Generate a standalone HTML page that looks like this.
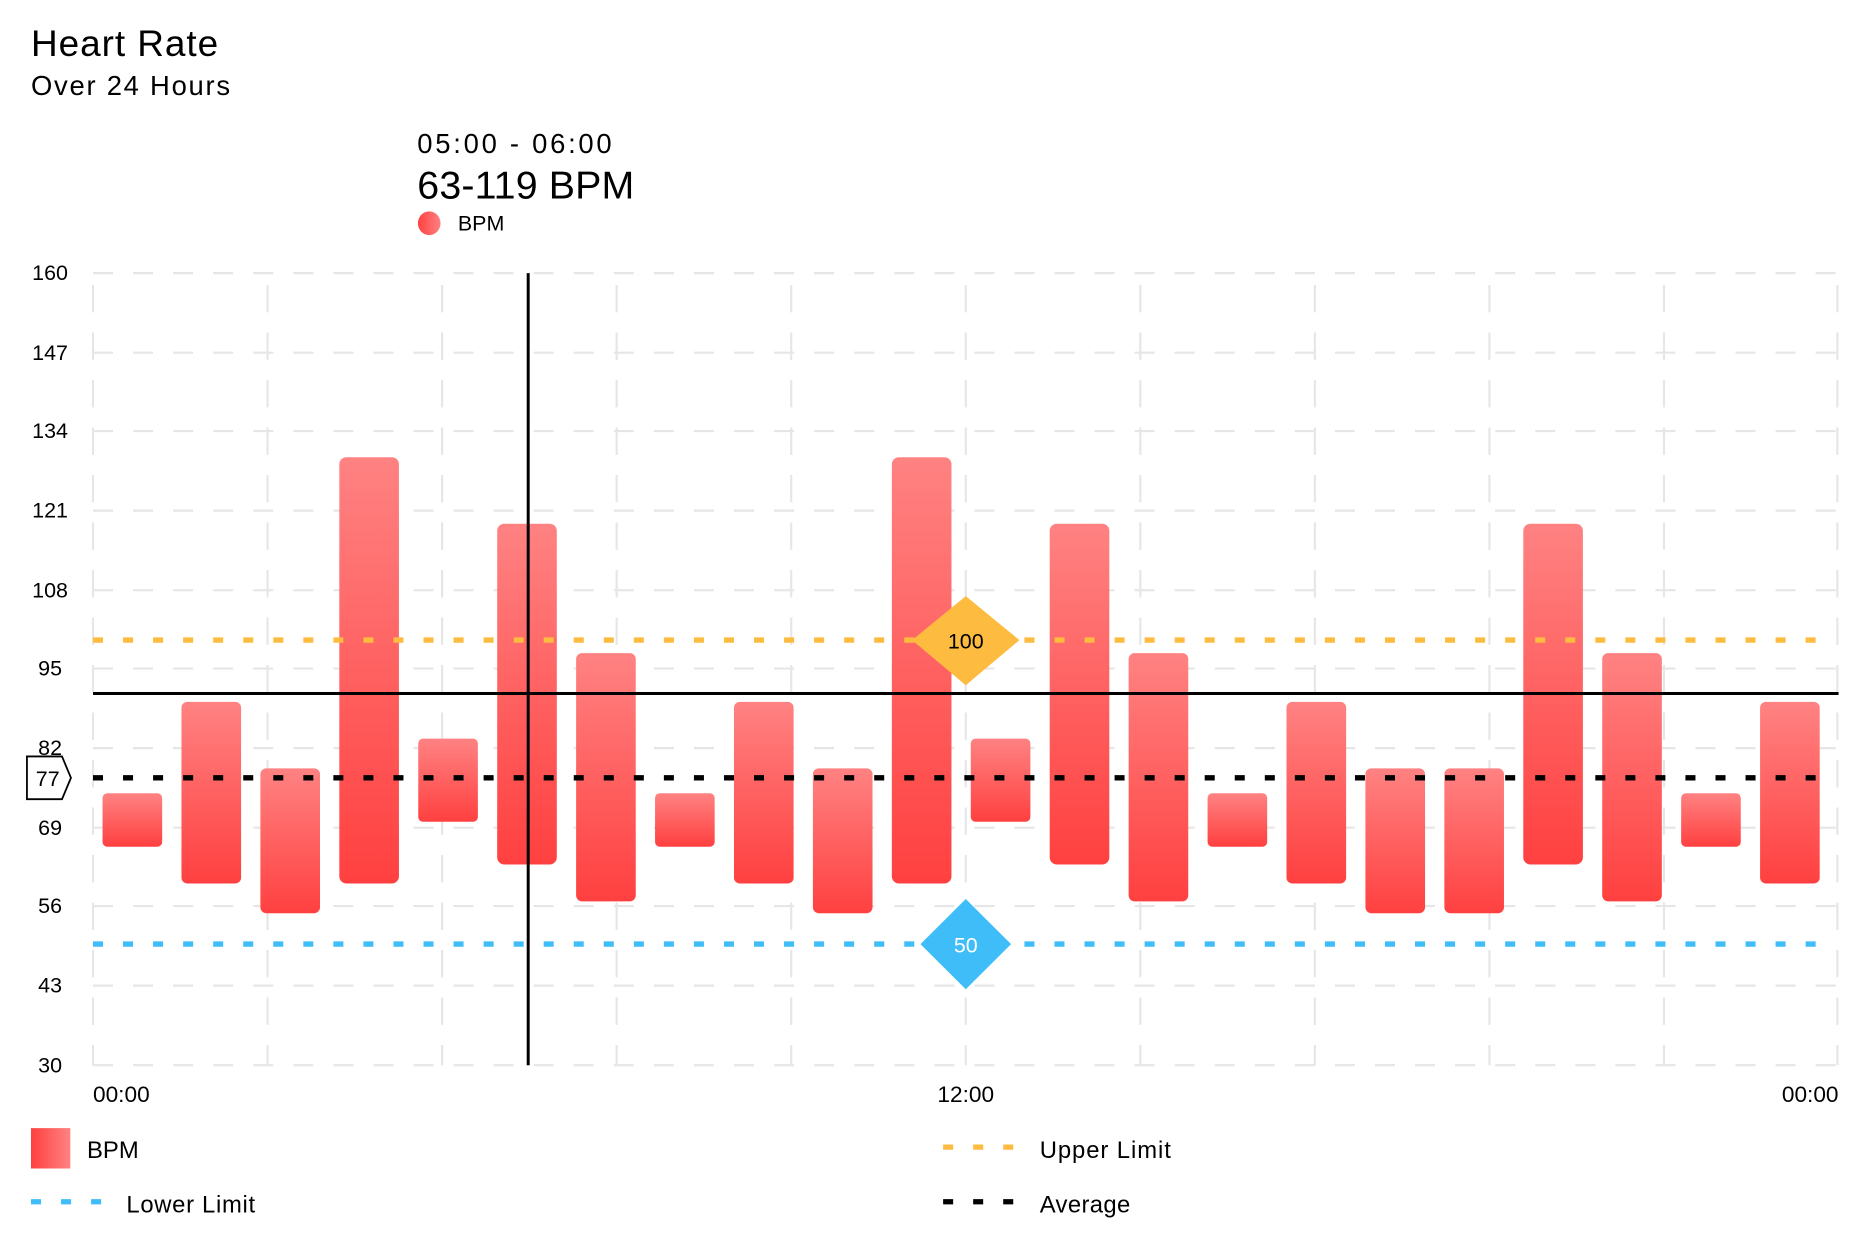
<!DOCTYPE html>
<html><head><meta charset="utf-8"><style>
html,body{margin:0;padding:0;background:#fff;}
svg{display:block;font-family:"Liberation Sans",sans-serif;}
</style></head><body>
<svg width="1860" height="1235" viewBox="0 0 1560 1040" preserveAspectRatio="none" xmlns="http://www.w3.org/2000/svg">
<defs>
<linearGradient id="g" x1="0" y1="0" x2="0" y2="1"><stop offset="0" stop-color="#ff8282"/><stop offset="1" stop-color="#ff4040"/></linearGradient>
<linearGradient id="gh" x1="0" y1="0" x2="1" y2="0"><stop offset="0" stop-color="#ff4040"/><stop offset="1" stop-color="#ff8282"/></linearGradient>
</defs>
<text x="26" y="47" font-size="31" fill="#000" textLength="157">Heart Rate</text>
<text x="26" y="80" font-size="23" fill="#000" textLength="167">Over 24 Hours</text>
<text x="350" y="129" font-size="23" textLength="163">05:00 - 06:00</text>
<text x="350" y="167" font-size="33" textLength="182">63-119 BPM</text>
<ellipse cx="360" cy="188" rx="9.5" ry="10" fill="url(#gh)"/>
<text x="384" y="194" font-size="18">BPM</text>
<g stroke="#e6e6e6" stroke-width="1.8" stroke-dasharray="16.8 16.8">
<line x1="78" y1="230" x2="1542" y2="230"/><line x1="78" y1="297" x2="1542" y2="297"/><line x1="78" y1="363" x2="1542" y2="363"/><line x1="78" y1="430" x2="1542" y2="430"/><line x1="78" y1="497" x2="1542" y2="497"/><line x1="78" y1="563" x2="1542" y2="563"/><line x1="78" y1="630" x2="1542" y2="630"/><line x1="78" y1="697" x2="1542" y2="697"/><line x1="78" y1="763" x2="1542" y2="763"/><line x1="78" y1="830" x2="1542" y2="830"/><line x1="78" y1="897" x2="1542" y2="897"/>
</g>
<g stroke="#e6e6e6" stroke-width="1.8" stroke-dasharray="23 17" stroke-dashoffset="-10">
<line x1="78" y1="230" x2="78" y2="897"/><line x1="224.4" y1="230" x2="224.4" y2="897"/><line x1="370.8" y1="230" x2="370.8" y2="897"/><line x1="517.2" y1="230" x2="517.2" y2="897"/><line x1="663.6" y1="230" x2="663.6" y2="897"/><line x1="810" y1="230" x2="810" y2="897"/><line x1="956.4" y1="230" x2="956.4" y2="897"/><line x1="1102.8" y1="230" x2="1102.8" y2="897"/><line x1="1249.2" y1="230" x2="1249.2" y2="897"/><line x1="1395.6" y1="230" x2="1395.6" y2="897"/><line x1="1541" y1="230" x2="1541" y2="897"/>
</g>
<g font-size="18" text-anchor="middle" fill="#000">
<text x="42" y="236">160</text><text x="42" y="303">147</text><text x="42" y="369">134</text><text x="42" y="436">121</text><text x="42" y="503">108</text><text x="42" y="569">95</text><text x="42" y="636">82</text><text x="42" y="703">69</text><text x="42" y="769">56</text><text x="42" y="836">43</text><text x="42" y="903">30</text>
</g>
<g fill="url(#g)">
<rect x="86" y="668" width="50" height="45" rx="4"/>
<rect x="152.2" y="591" width="50" height="153" rx="5"/>
<rect x="218.4" y="647" width="50" height="122" rx="5"/>
<rect x="284.6" y="385" width="50" height="359" rx="6"/>
<rect x="350.8" y="622" width="50" height="70" rx="4"/>
<rect x="417" y="441" width="50" height="287" rx="6"/>
<rect x="483.2" y="550" width="50" height="209" rx="5"/>
<rect x="549.4" y="668" width="50" height="45" rx="4"/>
<rect x="615.6" y="591" width="50" height="153" rx="5"/>
<rect x="681.8" y="647" width="50" height="122" rx="5"/>
<rect x="748" y="385" width="50" height="359" rx="6"/>
<rect x="814.2" y="622" width="50" height="70" rx="4"/>
<rect x="880.4" y="441" width="50" height="287" rx="6"/>
<rect x="946.6" y="550" width="50" height="209" rx="5"/>
<rect x="1012.8" y="668" width="50" height="45" rx="4"/>
<rect x="1079" y="591" width="50" height="153" rx="5"/>
<rect x="1145.2" y="647" width="50" height="122" rx="5"/>
<rect x="1211.4" y="647" width="50" height="122" rx="5"/>
<rect x="1277.6" y="441" width="50" height="287" rx="6"/>
<rect x="1343.8" y="550" width="50" height="209" rx="5"/>
<rect x="1410" y="668" width="50" height="45" rx="4"/>
<rect x="1476.2" y="591" width="50" height="153" rx="5"/>
</g>
<g stroke-width="4.5" stroke-dasharray="8.4 16.8">
<line x1="78" y1="539" x2="1530" y2="539" stroke="#fdbb3f"/>
<line x1="78" y1="655" x2="1530" y2="655" stroke="#000"/>
<line x1="78" y1="795" x2="1530" y2="795" stroke="#3fbdf9"/>
</g>
<line x1="443" y1="230" x2="443" y2="897" stroke="#000" stroke-width="2.5"/>
<line x1="78" y1="584" x2="1542" y2="584" stroke="#000" stroke-width="2.5"/>
<polygon points="810,502 855,539 810,577 765,539" fill="#fdbb3f"/>
<text x="810" y="546" font-size="18" text-anchor="middle" fill="#000">100</text>
<polygon points="810,757 848,795 810,833 772,795" fill="#3fbdf9"/>
<text x="810" y="802" font-size="18" text-anchor="middle" fill="#fff">50</text>
<polygon points="22.6,637 52,637 59.5,655 52,673 22.6,673" fill="#fff" stroke="#000" stroke-width="1.5"/>
<text x="40" y="662" font-size="18" text-anchor="middle">77</text>
<g font-size="19">
<text x="78" y="928">00:00</text>
<text x="810" y="928" text-anchor="middle">12:00</text>
<text x="1542" y="928" text-anchor="end">00:00</text>
</g>
<rect x="26" y="950" width="33" height="34" fill="url(#gh)"/>
<text x="73" y="975" font-size="20">BPM</text>
<g stroke-width="4.5" stroke-dasharray="8.4 16.8">
<line x1="26" y1="1012" x2="86" y2="1012" stroke="#3fbdf9"/>
<line x1="791" y1="966" x2="851" y2="966" stroke="#fdbb3f"/>
<line x1="791" y1="1012" x2="851" y2="1012" stroke="#000"/>
</g>
<text x="106" y="1021" font-size="20" textLength="108">Lower Limit</text>
<text x="872" y="975" font-size="20" textLength="110">Upper Limit</text>
<text x="872" y="1021" font-size="20" textLength="76">Average</text>
</svg>
</body></html>
